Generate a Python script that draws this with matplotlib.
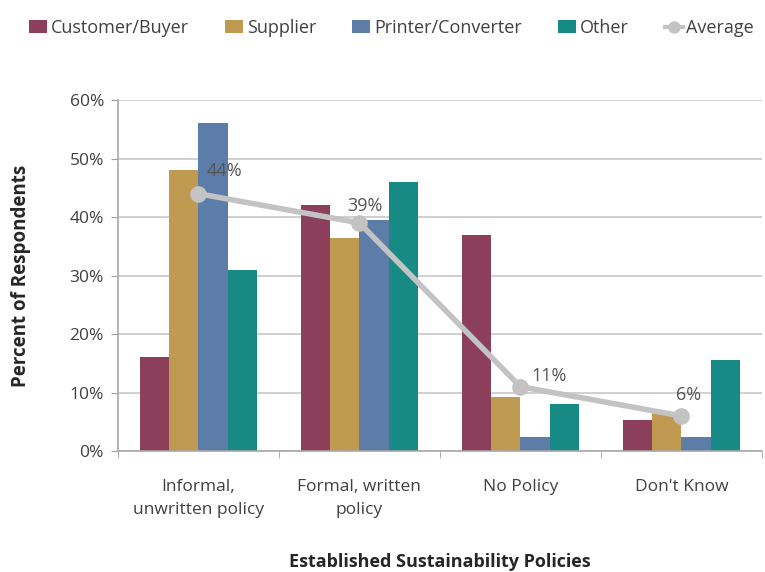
import matplotlib.pyplot as plt
import numpy as np
from matplotlib.lines import Line2D
from matplotlib.patches import Patch

categories = ["Informal,\nunwritten policy", "Formal, written\npolicy", "No Policy", "Don't Know"]
series_names = ["Customer/Buyer", "Supplier", "Printer/Converter", "Other"]
customer = [16, 42, 37, 5.3]
supplier = [48, 36.5, 9.2, 6.5]
printer = [56, 39.5, 2.4, 2.4]
other = [31, 46, 8, 15.5]
average = [44, 39, 11, 6]
avg_labels = ["44%", "39%", "11%", "6%"]
yticks = [0, 10, 20, 30, 40, 50, 60]

colors = ["#8C3F5B", "#C19A52", "#5B7DA8", "#178A86"]
line_color = "#C3C3C3"
text_color = "#404040"

plt.rcParams["font.family"] = ["Open Sans", "DejaVu Sans"]

fig = plt.figure(figsize=(7.65, 5.72), dpi=100)
ax = fig.add_axes([0.154, 0.2115, 0.842, 0.6135])

x = np.arange(len(categories))
width = 0.182
for i, (vals, col) in enumerate(zip([customer, supplier, printer, other], colors)):
    ax.bar(x + (i - 1.5) * width, vals, width, color=col, zorder=2)

ax.plot(x, average, color=line_color, lw=4, marker="o", ms=11, zorder=3)
# label offsets (points) so the text sits clear of the line
label_offsets = [(19, 16), (4, 12), (21, 8), (5, 15)]
for xi, yi, lab, off in zip(x, average, avg_labels, label_offsets):
    ax.annotate(lab, (xi, yi), xytext=off, textcoords="offset points",
                fontsize=13, color="#555555", ha="center", va="center", zorder=4)

ax.set_xlim(-0.5, len(categories) - 0.5)
ax.set_ylim(0, 60)
ax.set_yticks(yticks)
ax.set_yticklabels([f"{v}%" for v in yticks], fontsize=12.5, color=text_color)
ax.set_xticks(x)
ax.set_xticklabels(categories, fontsize=12.5, color=text_color, linespacing=1.6)
ax.tick_params(axis="x", length=0, pad=20)
ax.set_xticks(np.arange(len(categories) + 1) - 0.5, minor=True)
ax.tick_params(axis="x", which="minor", length=5, color="#A0A0A0")
ax.tick_params(axis="y", length=5, color="#A0A0A0", pad=5)

ax.grid(axis="y", color="#C8C8C8", lw=1.2, zorder=0)
for side in ["top", "right"]:
    ax.spines[side].set_visible(False)
for side in ["left", "bottom"]:
    ax.spines[side].set_color("#A8A8A8")
    ax.spines[side].set_linewidth(1.2)

ax.set_ylabel("Percent of Respondents", fontsize=13.5, fontweight="bold", color="#262626", labelpad=28)
ax.set_xlabel("Established Sustainability Policies", fontsize=13, fontweight="bold", color="#262626", labelpad=25)

handles = [Patch(facecolor=c) for c in colors]
handles.append(Line2D([0], [0], color=line_color, lw=3, marker="o", ms=8))
fig.legend(handles, series_names + ["Average"], loc="upper center", bbox_to_anchor=(0.512, 0.995),
           ncol=5, frameon=False, fontsize=13, handlelength=1.0, handletextpad=0.2,
           columnspacing=2.0, labelcolor=text_color)

fig.savefig("out.png", dpi=100)
